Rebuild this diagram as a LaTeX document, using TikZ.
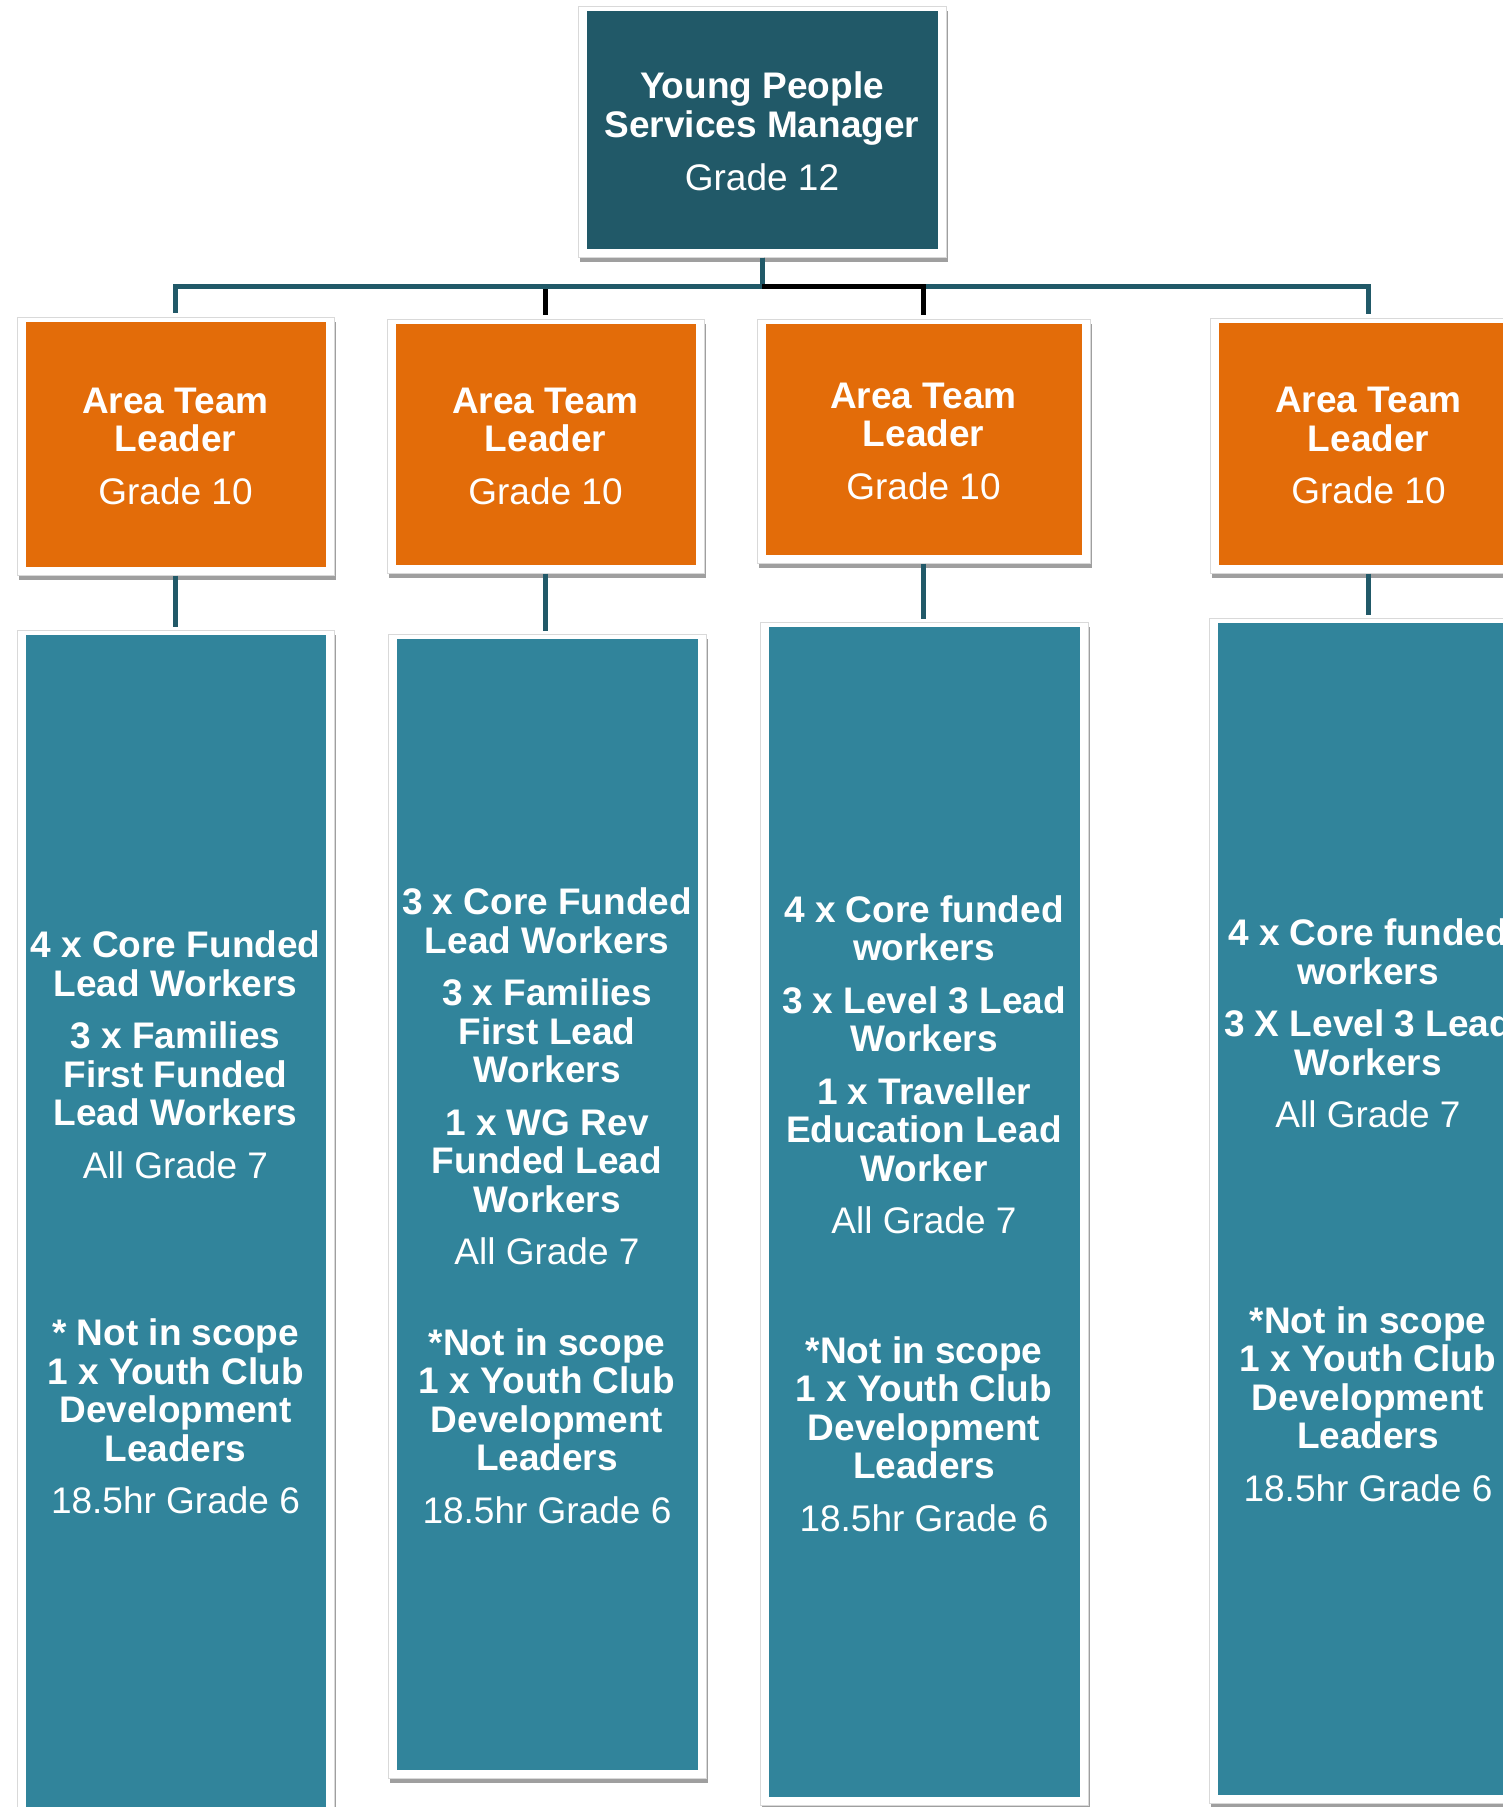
\documentclass[tikz,border=0pt]{standalone}
\usepackage{fontspec}
\setmainfont{Liberation Sans}
\usetikzlibrary{shadows}
\definecolor{topteal}{HTML}{215968}
\definecolor{orng}{HTML}{E36C09}
\definecolor{bteal}{HTML}{31849B}
\newcommand\cardfont{\fontsize{37}{38.5}\selectfont}
\tikzset{
  card/.style={draw=gray!30, line width=1pt, fill=white, inner sep=0pt,
    text=white, align=center, font=\cardfont,
    drop shadow={shadow xshift=2pt, shadow yshift=-5pt, fill=gray!75, opacity=1},
    path picture={\fill[#1] ([xshift=8.5pt,yshift=-4.5pt]path picture bounding box.north west)
      rectangle ([xshift=-8.5pt,yshift=8.5pt]path picture bounding box.south east);}},
  tl/.style={draw=topteal, line width=5pt},
  blk/.style={draw=black, line width=5pt},
}
\begin{document}
\begin{tikzpicture}[x=1pt,y=-1pt]
\path[use as bounding box] (0,0) rectangle (1503,1807);
\clip (0,0) rectangle (1503,1807);

% top manager
\node[card=topteal, minimum width=368pt, minimum height=251pt] (top) at (762,131.5)
  {\textbf{Young People}\\\textbf{Services Manager}\\[15pt]Grade 12};

% area team leaders
\node[card=orng, minimum width=317pt, minimum height=258pt] (A1) at (175.5,446)
  {\textbf{Area Team}\\\textbf{Leader}\\[14pt]Grade 10};
\node[card=orng, minimum width=317pt, minimum height=254pt] (A2) at (545.5,446)
  {\textbf{Area Team}\\\textbf{Leader}\\[14pt]Grade 10};
\node[card=orng, minimum width=333pt, minimum height=244pt] (A3) at (923.5,441)
  {\textbf{Area Team}\\\textbf{Leader}\\[14pt]Grade 10};
\node[card=orng, minimum width=317pt, minimum height=255pt] (A4) at (1368.5,445.5)
  {\textbf{Area Team}\\\textbf{Leader}\\[14pt]Grade 10};

% worker boxes
\node[card=bteal, minimum width=317pt, minimum height=1185pt] (B1) at (175.5,1222.5)
  {\textbf{4 x Core Funded}\\\textbf{Lead Workers}\\[14pt]
   \textbf{3 x Families}\\\textbf{First Funded}\\\textbf{Lead Workers}\\[14pt]
   All Grade 7\\[129pt]
   \textbf{* Not in scope}\\\textbf{1 x Youth Club}\\\textbf{Development}\\\textbf{Leaders}\\[14pt]
   18.5hr Grade 6};
\node[card=bteal, minimum width=318pt, minimum height=1144pt] (B2) at (547,1206)
  {\textbf{3 x Core Funded}\\\textbf{Lead Workers}\\[14pt]
   \textbf{3 x Families}\\\textbf{First Lead}\\\textbf{Workers}\\[14pt]
   \textbf{1 x WG Rev}\\\textbf{Funded Lead}\\\textbf{Workers}\\[14pt]
   All Grade 7\\[52pt]
   \textbf{*Not in scope}\\\textbf{1 x Youth Club}\\\textbf{Development}\\\textbf{Leaders}\\[14pt]
   18.5hr Grade 6};
\node[card=bteal, minimum width=328pt, minimum height=1183pt] (B3) at (924,1213.5)
  {\textbf{4 x Core funded}\\\textbf{workers}\\[14pt]
   \textbf{3 x Level 3 Lead}\\\textbf{Workers}\\[14pt]
   \textbf{1 x Traveller}\\\textbf{Education Lead}\\\textbf{Worker}\\[14pt]
   All Grade 7\\[91pt]
   \textbf{*Not in scope}\\\textbf{1 x Youth Club}\\\textbf{Development}\\\textbf{Leaders}\\[14pt]
   18.5hr Grade 6};
\node[card=bteal, minimum width=318pt, minimum height=1185pt] (B4) at (1368,1210.5)
  {\textbf{4 x Core funded}\\\textbf{workers}\\[14pt]
   \textbf{3 X Level 3 Lead}\\\textbf{Workers}\\[14pt]
   All Grade 7\\[167pt]
   \textbf{*Not in scope}\\\textbf{1 x Youth Club}\\\textbf{Development}\\\textbf{Leaders}\\[14pt]
   18.5hr Grade 6};

% connectors top -> area leaders
\draw[blk, shorten >=4pt] (top.south) -- ++(0,29) -| (A2.north);
\draw[blk, shorten >=4pt] (top.south) -- ++(0,29) -| (A3.north);
\draw[tl, shorten >=4pt] (top.south) -- ++(0,29) -| (A1.north);
\draw[tl, shorten >=4pt] (top.south) -- ++(0,29) -| (A4.north);
\draw[blk, shorten >=4pt] ([yshift=-29pt]top.south) -| (A3.north);

% connectors area leaders -> worker boxes
\draw[tl, shorten >=3pt] (A1.south) -- (A1.south |- B1.north);
\draw[tl, shorten >=3pt] (A2.south) -- (A2.south |- B2.north);
\draw[tl, shorten >=3pt] (A3.south) -- (A3.south |- B3.north);
\draw[tl, shorten >=3pt] (A4.south) -- (A4.south |- B4.north);
\end{tikzpicture}
\end{document}
